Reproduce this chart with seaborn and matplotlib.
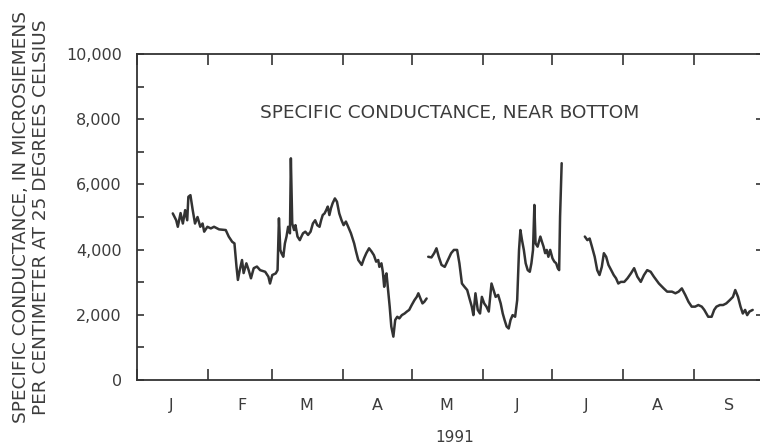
import pandas as pd
import seaborn as sns
import matplotlib.pyplot as plt
import matplotlib.ticker as mticker

# Specific conductance near bottom, 1991.
# day = days after Jan 1 1991, value in microsiemens per cm at 25 C.
# The record has two gaps, so it is kept as three pieces.
seg1_day = [15.6, 17.1, 17.8, 19.0, 20.0, 21.0, 21.9, 22.4, 23.3, 24.3, 25.3, 26.4,
            27.6, 28.6, 29.3, 30.7, 32.2, 33.6, 35.8, 38.7, 40.0, 41.5, 42.5, 43.4,
            44.0, 44.8, 45.8, 46.5, 47.7, 48.7, 49.7, 50.9, 52.3, 53.7, 55.9, 57.3,
            58.0, 59.0, 60.5, 61.3, 61.9, 62.5, 63.0, 63.8, 64.5, 65.2, 65.9, 66.7,
            67.1, 67.7, 68.5, 69.1, 70.0, 71.0, 71.7, 72.4, 73.4, 74.6, 75.7, 76.7,
            77.7, 78.6, 79.6, 80.3, 81.0, 81.8, 82.5, 83.2, 83.9, 84.6, 85.3, 86.3,
            87.2, 88.2, 89.2, 90.1, 91.1, 92.1, 93.3, 94.7, 95.5, 96.5, 98.0, 99.0,
            100.0, 101.2, 102.3, 103.3, 104.3, 105.2, 105.7, 106.6, 107.2, 107.8,
            108.3, 108.8, 109.5, 110.2, 110.9, 111.8, 112.6, 113.5, 114.4, 115.5,
            116.7, 117.7, 118.7, 119.8, 121.0, 122.0, 122.7, 123.6, 124.5, 125.3,
            126.3]
seg1_val = [5110, 4900, 4700, 5120, 4800, 5210, 4900, 5620, 5670, 5210, 4800, 5000,
            4700, 4800, 4550, 4700, 4650, 4700, 4620, 4600, 4400, 4240, 4190, 3470,
            3070, 3370, 3680, 3280, 3580, 3370, 3120, 3430, 3480, 3370, 3320, 3170,
            2960, 3220, 3270, 3370, 4960, 3990, 3890, 3780, 4190, 4400, 4700, 4500,
            6800, 4800, 4600, 4750, 4400, 4290, 4400, 4500, 4550, 4450, 4550, 4800,
            4900, 4750, 4700, 4900, 5060, 5110, 5210, 5320, 5060, 5270, 5420, 5570,
            5470, 5110, 4900, 4750, 4860, 4700, 4500, 4190, 3950, 3680, 3530, 3730,
            3890, 4040, 3940, 3830, 3630, 3680, 3470, 3580, 3320, 2860,
            3170, 3270, 2760, 2250, 1640, 1330, 1840, 1940, 1890, 1990,
            2040, 2100, 2150, 2300, 2450, 2550, 2660, 2500, 2350, 2400,
            2500]

seg2_day = [127.0, 128.4, 129.6, 130.6, 131.6, 132.8, 134.2, 135.6, 137.0, 138.2,
            139.6, 140.6, 141.7, 142.8, 144.0, 145.0, 146.0, 146.7, 147.6, 148.6,
            149.6, 150.4, 151.4, 152.4, 153.4, 154.6, 155.5, 156.4, 157.5, 158.6,
            159.5, 160.3, 161.2, 162.1, 162.9, 163.8, 164.9, 165.8, 166.6, 167.2,
            167.9, 168.7, 169.5, 170.4, 171.3, 172.0, 172.7, 173.3, 173.8, 174.7,
            175.9, 176.6, 177.3, 178.0, 178.7, 179.4, 180.2, 181.2, 182.0, 182.8,
            183.5, 184.1, 184.5, 185.2]
seg2_val = [3780, 3760, 3890, 4040, 3780, 3530, 3470, 3680, 3890, 3990,
            3990, 3580, 2960, 2860, 2760, 2500, 2250, 1990, 2660, 2150,
            2040, 2550, 2350, 2250, 2100, 2960, 2760, 2550, 2610, 2350,
            2040, 1840, 1640, 1580, 1840, 1990, 1940, 2450, 3990, 4600,
            4290, 3990, 3580, 3370, 3320, 3580, 3990, 5370, 4190, 4090,
            4400, 4240, 4090, 3890, 3990, 3780, 3990, 3730, 3630, 3580,
            3430, 3370, 5010, 6650]

seg3_day = [195.3, 196.4, 197.4, 198.4, 199.6, 200.7, 201.7, 202.7, 203.6, 204.6,
            205.6, 206.8, 207.9, 208.9, 209.9, 211.0, 212.5, 213.9, 215.4, 216.8,
            218.2, 219.7, 221.1, 222.5, 224.0, 225.4, 227.6, 229.7, 231.2, 233.3,
            234.8, 236.2, 237.6, 239.1, 240.5, 241.9, 243.4, 244.8, 246.3, 247.4,
            249.1, 250.6, 251.7, 252.7, 254.2, 255.6, 257.0, 258.5, 259.9, 260.9,
            262.1, 263.2, 264.2, 265.2, 266.1, 267.1, 268.5]
seg3_val = [4400, 4290, 4340, 4090, 3780, 3370, 3220, 3470, 3890, 3780,
            3530, 3370, 3220, 3120, 2960, 3010, 3010, 3120, 3270, 3430,
            3170, 3010, 3220, 3370, 3320, 3170, 2960, 2810, 2710, 2710,
            2660, 2710, 2810, 2610, 2400, 2250, 2250, 2300, 2250, 2150,
            1940, 1940, 2150, 2250, 2300, 2300, 2350, 2450, 2550, 2760,
            2550, 2250, 2040, 2150, 1990, 2100, 2150]

month_labels = ["J", "F", "M", "A", "M", "J", "J", "A", "S"]
ytick_values = [0, 2000, 4000, 6000, 8000, 10000]

start = pd.Timestamp("1991-01-01")
frames = []
for i, (d, v) in enumerate([(seg1_day, seg1_val), (seg2_day, seg2_val), (seg3_day, seg3_val)]):
    frames.append(pd.DataFrame({
        "date": start + pd.to_timedelta(d, unit="D"),
        "cond": v,
        "seg": i,
    }))
df = pd.concat(frames, ignore_index=True)

INK = "#333333"
TXT = "#3c3c3c"

sns.set_style("ticks")
plt.rcParams["font.family"] = ["DejaVu Sans"]

fig = plt.figure(figsize=(7.6, 4.44), dpi=100)
# axes run a little past the right edge of the image, as in the cropped scan
ax = fig.add_axes([137 / 760, 64 / 444, 626 / 760, 326 / 444])

sns.lineplot(data=df, x="date", y="cond", units="seg", estimator=None,
             sort=False, color=INK, linewidth=1.8, ax=ax)

ax.set_xlim(start, start + pd.Timedelta(days=269.8))
ax.set_ylim(0, 10000)

# month boundaries as inward ticks, letters centred in each month
month_starts = pd.date_range("1991-01-01", periods=10, freq="MS")
mid_months = pd.date_range("1991-01-01", periods=9, freq="MS") + pd.Timedelta(days=15)
ax.set_xticks(month_starts)
ax.set_xticklabels([""] * len(month_starts))
ax.set_xticks(mid_months, minor=True)
ax.set_xticklabels(month_labels, minor=True)
ax.tick_params(axis="x", which="major", direction="in", length=8, width=1.2,
               top=True, bottom=True, color=INK)
ax.tick_params(axis="x", which="minor", length=0, pad=13, labelsize=11.5,
               labelcolor=TXT)

ax.set_yticks(ytick_values)
ax.yaxis.set_minor_locator(mticker.MultipleLocator(1000))
ax.yaxis.set_major_formatter(mticker.StrMethodFormatter("{x:,.0f}"))
ax.tick_params(axis="y", which="major", direction="in", length=5, width=1.2,
               left=True, right=True, pad=11, labelsize=11.5, labelcolor=TXT, color=INK)
ax.tick_params(axis="y", which="minor", direction="in", length=5, width=1.2,
               left=True, right=False, color=INK)

for s in ax.spines.values():
    s.set_color(INK)
    s.set_linewidth(1.3)

ax.set_xlabel("")
ax.set_ylabel("")

ax.text(0.5, 0.819, "SPECIFIC CONDUCTANCE, NEAR BOTTOM", transform=ax.transAxes,
        ha="center", va="center", fontsize=13.3, color=TXT)

fig.text(31 / 760, 1 - 217 / 444,
         "SPECIFIC CONDUCTANCE, IN MICROSIEMENS\nPER CENTIMETER AT 25 DEGREES CELSIUS",
         rotation=90, ha="center", va="center", multialignment="center",
         fontsize=13.3, linespacing=1.2, color=TXT)
fig.text(455 / 760, 1 - 437 / 444, "1991", ha="center", va="center",
         fontsize=11, color=TXT)

fig.savefig("out.png", dpi=100)
